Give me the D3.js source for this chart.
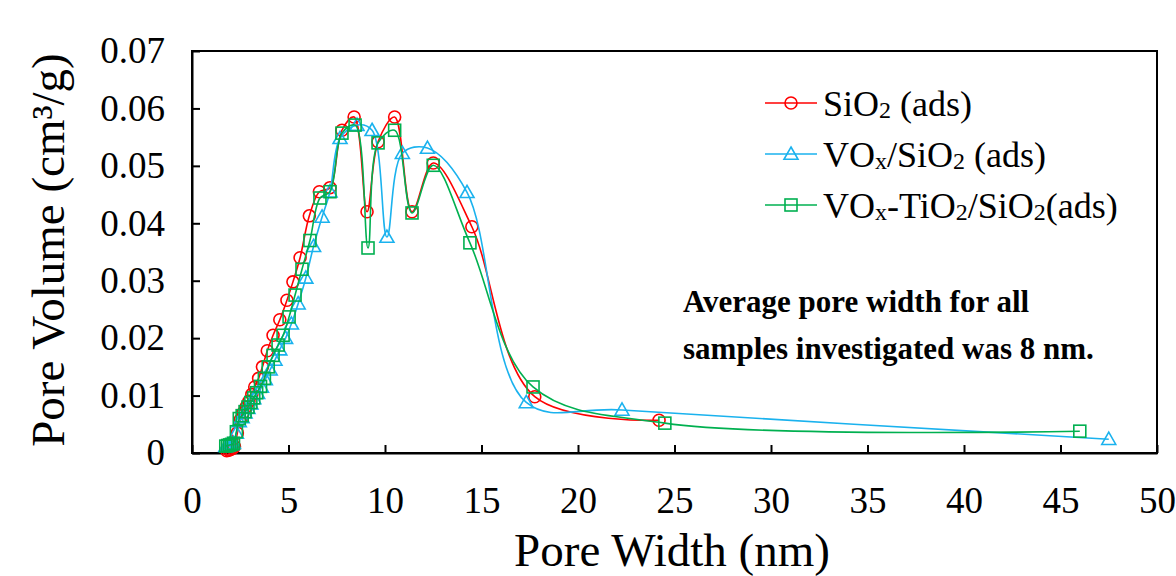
<!DOCTYPE html>
<html>
<head>
<meta charset="utf-8">
<script src="https://cdn.jsdelivr.net/npm/d3@7"></script>
<style>
  html, body { margin: 0; padding: 0; background: #fff; }
  svg { display: block; }
  text { font-family: "Liberation Serif", "Times New Roman", serif; fill: #000; }
</style>
</head>
<body>
<svg id="chart" width="1176" height="576"></svg>
<script>
// BJH pore size distribution (adsorption branch)
const xTicks = [0, 5, 10, 15, 20, 25, 30, 35, 40, 45, 50];
const yTicks = [0, 0.01, 0.02, 0.03, 0.04, 0.05, 0.06, 0.07];

const sio2Width = [1.80, 1.90, 2.00, 2.10, 2.20, 2.35, 2.50, 2.65, 2.80, 2.95, 3.10, 3.25, 3.45, 3.65,
  3.90, 4.20, 4.55, 4.92, 5.23, 5.60, 6.08, 6.60, 7.15, 7.77, 8.40, 9.07, 9.64, 10.50, 11.40,
  12.50, 14.50, 17.76, 24.20];
const sio2Volume = [0.0004, 0.0005, 0.0006, 0.0008, 0.0011, 0.0035, 0.0058, 0.0070, 0.0080, 0.0090,
  0.0102, 0.0115, 0.0130, 0.0150, 0.0178, 0.0205, 0.0232, 0.0266, 0.0298, 0.0340, 0.0413, 0.0455,
  0.0462, 0.0562, 0.0585, 0.0420, 0.0542, 0.0585, 0.0420, 0.0505, 0.0394, 0.0098, 0.0057];

const voxWidth = [1.75, 1.85, 1.95, 2.05, 2.15, 2.30, 2.45, 2.60, 2.75, 2.90, 3.05, 3.20, 3.40, 3.60,
  3.80, 4.05, 4.30, 4.55, 4.85, 5.15, 5.50, 5.90, 6.30, 6.74, 7.15, 7.67, 8.55, 9.33, 10.10,
  10.90, 12.20, 14.25, 17.32, 22.28, 47.50];
const voxVolume = [0.0012, 0.0013, 0.0014, 0.0015, 0.0017, 0.0035, 0.0055, 0.0062, 0.0070, 0.0078,
  0.0086, 0.0095, 0.0104, 0.0115, 0.0128, 0.0145, 0.0162, 0.0180, 0.0200, 0.0225, 0.0260, 0.0305,
  0.0360, 0.0411, 0.0455, 0.0548, 0.0571, 0.0562, 0.0376, 0.0522, 0.0531, 0.0454, 0.0088, 0.0075,
  0.0024];

const voxTiWidth = [1.75, 1.85, 1.95, 2.05, 2.15, 2.30, 2.45, 2.60, 2.75, 2.90, 3.05, 3.20, 3.35, 3.55,
  3.75, 3.95, 4.20, 4.46, 4.72, 5.03, 5.34, 5.70, 6.11, 6.63, 7.15, 7.77, 8.45, 9.12, 9.64,
  10.50, 11.40, 12.50, 14.40, 17.67, 24.50, 46.00];
const voxTiVolume = [0.0012, 0.0013, 0.0014, 0.0015, 0.0017, 0.0037, 0.0060, 0.0065, 0.0072, 0.0080,
  0.0088, 0.0096, 0.0105, 0.0116, 0.0130, 0.0150, 0.0170, 0.0188, 0.0205, 0.0237, 0.0275, 0.0320,
  0.0370, 0.0444, 0.0455, 0.0557, 0.0571, 0.0357, 0.0540, 0.0562, 0.0418, 0.0501, 0.0366, 0.0115,
  0.0052, 0.0038];

const seriesNames = [
  [{ t: "SiO" }, { t: "2", sub: true }, { t: " (ads)" }],
  [{ t: "VO" }, { t: "x", sub: true }, { t: "/SiO" }, { t: "2", sub: true }, { t: " (ads)" }],
  [{ t: "VO" }, { t: "x", sub: true }, { t: "-TiO" }, { t: "2", sub: true }, { t: "/SiO" }, { t: "2", sub: true }, { t: "(ads)" }]
];
const seriesColors = ["#FF0000", "#1AB2EE", "#00B050"];
const seriesShapes = ["circle", "triangle", "square"];

const series = [
  { xs: sio2Width, ys: sio2Volume },
  { xs: voxWidth, ys: voxVolume },
  { xs: voxTiWidth, ys: voxTiVolume }
].map((s, i) => ({
  points: s.xs.map((x, j) => ({ x, y: s.ys[j] })),
  color: seriesColors[i], shape: seriesShapes[i], name: seriesNames[i]
}));

const svg = d3.select("#chart");
const plotLeft = 192, plotRight = 1157, plotTop = 51, plotBottom = 453;

const x = d3.scaleLinear().domain([0, 50]).range([plotLeft, plotRight]);
const y = d3.scaleLinear().domain([0, 0.07]).range([plotBottom, plotTop]);

// Plot frame
svg.append("rect")
  .attr("x", plotLeft).attr("y", plotTop)
  .attr("width", plotRight - plotLeft).attr("height", plotBottom - plotTop)
  .attr("fill", "none").attr("stroke", "#000").attr("stroke-width", 2);

// Axes with inward ticks
const xAxis = d3.axisBottom(x).tickValues(xTicks).tickFormat(d3.format("d"))
  .tickSizeInner(-8).tickSizeOuter(0).tickPadding(34);
const yAxis = d3.axisLeft(y).tickValues(yTicks)
  .tickFormat(v => v === 0 ? "0" : v.toFixed(2))
  .tickSizeInner(-8).tickSizeOuter(0).tickPadding(27);

const gx = svg.append("g").attr("transform", `translate(0,${plotBottom})`).call(xAxis);
const gy = svg.append("g").attr("transform", `translate(${plotLeft},0)`).call(yAxis);
[gx, gy].forEach(g => {
  g.select(".domain").attr("stroke", "#000").attr("stroke-width", 2);
  g.selectAll(".tick line").attr("stroke", "#000").attr("stroke-width", 2);
  g.selectAll(".tick text")
    .attr("font-family", "'Liberation Serif', 'Times New Roman', serif")
    .attr("font-size", 37).attr("fill", "#000");
});

// Axis titles
svg.append("text")
  .attr("x", 672).attr("y", 566)
  .attr("text-anchor", "middle").attr("font-size", 47)
  .text("Pore Width (nm)");
svg.append("text")
  .attr("transform", "translate(64,250) rotate(-90)")
  .attr("text-anchor", "middle").attr("font-size", 47)
  .text("Pore Volume (cm³/g)");

// Marker drawing
function drawMarker(g, shape, cx, cy, color) {
  if (shape === "circle") {
    g.append("circle").attr("cx", cx).attr("cy", cy).attr("r", 6)
      .attr("fill", "none").attr("stroke", color).attr("stroke-width", 1.6);
  } else if (shape === "triangle") {
    const s = 7;
    g.append("path")
      .attr("d", `M${cx},${cy - s}L${cx + s},${cy + s * 0.75}L${cx - s},${cy + s * 0.75}Z`)
      .attr("fill", "none").attr("stroke", color).attr("stroke-width", 1.6);
  } else {
    const s = 6;
    g.append("rect").attr("x", cx - s).attr("y", cy - s).attr("width", 2 * s).attr("height", 2 * s)
      .attr("fill", "none").attr("stroke", color).attr("stroke-width", 1.6);
  }
}

// Smoothed connecting lines
const line = d3.line()
  .x(d => x(d.x)).y(d => y(d.y))
  .curve(d3.curveCatmullRom.alpha(0.5));

series.forEach(s => {
  const g = svg.append("g");
  g.append("path").datum(s.points)
    .attr("d", line)
    .attr("fill", "none").attr("stroke", s.color).attr("stroke-width", 1.6);
  s.points.forEach(p => drawMarker(g, s.shape, x(p.x), y(p.y), s.color));
});

// Legend
const legendRows = [103, 154, 205];
series.forEach((s, i) => {
  const cy = legendRows[i];
  const g = svg.append("g");
  g.append("line").attr("x1", 765).attr("x2", 817).attr("y1", cy).attr("y2", cy)
    .attr("stroke", s.color).attr("stroke-width", 1.6);
  drawMarker(g, s.shape, 791, cy, s.color);
  const t = g.append("text").attr("x", 823).attr("y", cy + 13).attr("font-size", 36);
  s.name.forEach((part, j) => {
    const prev = j > 0 ? s.name[j - 1] : null;
    const ts = t.append("tspan").text(part.t);
    if (part.sub) ts.attr("font-size", 24).attr("dy", 2);
    else if (prev && prev.sub) ts.attr("dy", -2);
  });
});

// Annotation
const note = svg.append("text").attr("font-size", 31).attr("font-weight", "bold");
note.append("tspan").attr("x", 683).attr("y", 312).text("Average pore width for all");
note.append("tspan").attr("x", 683).attr("y", 359).text("samples investigated was 8 nm.");
</script>
</body>
</html>
